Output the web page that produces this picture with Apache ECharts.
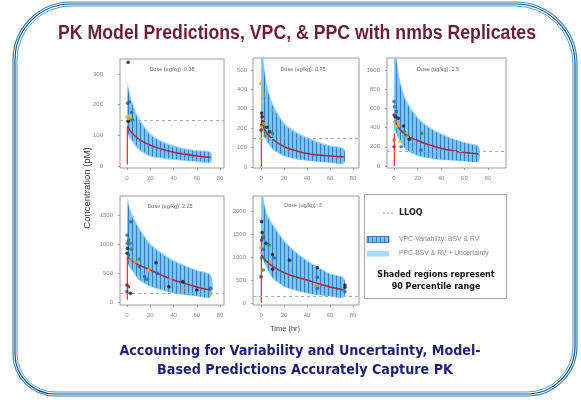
<!DOCTYPE html>
<html><head><meta charset="utf-8">
<script src="https://cdn.jsdelivr.net/npm/echarts@6/dist/echarts.min.js"></script>
<style>html,body{margin:0;padding:0;background:#fff}#c{width:581px;height:402px}</style>
</head><body><div id="c"></div>
<script>
// ---------------- DATA ----------------
const doseLabels = ['0.38', '0.75', '1.5', '2.25', '3'];
const xTicks = [0, 20, 40, 60, 80];
const yTicks038 = [0, 100, 200, 300];
const yTicks075 = [0, 100, 200, 300, 400, 500];
const yTicks15 = [0, 200, 400, 600, 800, 1000];
const yTicks225 = [0, 500, 1000, 1500];
const yTicks3 = [0, 500, 1000, 1500, 2000];
const lloq = 150;

// band time grid (hr)
const bandTimes = [0, 0.5, 2, 5, 10, 20, 30, 40, 50, 60, 72];
const medTimes = [0.5, 2, 5, 10, 20, 30, 40, 50, 60, 72];

// Dose 0.38
const ppcUp038 = [10, 275, 245, 205, 160, 107, 82, 68, 58, 52, 46];
const ppcLo038 = [2, 100, 92, 75, 52, 30, 24, 20, 16, 13, 11];
const vpcUp038 = [8, 262, 232, 195, 150, 100, 77, 63, 54, 48, 43];
const vpcLo038 = [3, 108, 98, 82, 58, 34, 27, 23, 19, 16, 14];
const med038 = [130, 120, 105, 88, 68, 55, 45, 38, 33, 28];
const red038 = [5, 128];
const obs038 = [[1,338,0],[2,209,1],[0.5,205,1],[4,174,1],[0,160,3],[3,150,2],[2,163,4],[5,150,2],[1,146,0],[1.5,155,3]];

// Dose 0.75
const ppcUp075 = [20, 720, 560, 430, 330, 230, 185, 155, 130, 112, 95];
const ppcLo075 = [3, 200, 170, 130, 90, 55, 40, 32, 26, 22, 18];
const vpcUp075 = [15, 690, 535, 410, 315, 218, 175, 146, 123, 106, 90];
const vpcLo075 = [4, 215, 182, 140, 97, 60, 44, 35, 29, 24, 21];
const med075 = [230, 205, 175, 145, 105, 85, 70, 62, 57, 53];
const red075 = [0, 278];
const obs075 = [[0,431,3],[1.5,380,3],[4.3,366,7],[1,337,4],[9,294,7],[0.5,278,0],[1,259,0],[1.5,233,0],[0.6,216,0],[0,208,4],[3.5,160,2],[7.5,182,0],[10,173,2],[2,225,3],[0,190,5],[5,205,0]];

// Dose 1.5
const ppcUp15 = [40, 1400, 1150, 900, 700, 514, 410, 340, 290, 250, 205];
const ppcLo15 = [5, 380, 330, 260, 170, 105, 80, 62, 55, 50, 45];
const vpcUp15 = [30, 1350, 1100, 860, 670, 490, 392, 325, 278, 240, 196];
const vpcLo15 = [6, 400, 350, 275, 180, 112, 86, 67, 59, 53, 48];
const med15 = [480, 440, 380, 325, 265, 220, 184, 160, 140, 125];
const red15 = [0, 340];
const obs15 = [[0,670,1],[0.5,618,2],[2,566,1],[1,514,0],[0,531,5],[3.5,497,0],[0.5,462,3],[2,410,4],[4,427,3],[8,417,0],[8.5,358,2],[11.5,313,2],[11,299,7],[13,278,0],[23.5,340,2],[23,167,1],[6,201,1],[0,201,6],[0,271,8],[5,253,4]];

// Dose 2.25
const ppcUp225 = [50, 1800, 1650, 1500, 1300, 1010, 850, 724, 630, 552, 470];
const ppcLo225 = [5, 650, 600, 520, 380, 264, 200, 150, 120, 100, 80];
const vpcUp225 = [40, 1740, 1600, 1450, 1260, 980, 825, 700, 610, 535, 455];
const vpcLo225 = [6, 680, 625, 545, 400, 278, 212, 160, 128, 107, 86];
const med225 = [780, 750, 700, 640, 552, 460, 380, 320, 260, 207];
const red225 = [40, 780];
const obs225 = [[3.4,1385,1],[0,1155,1],[1.4,1069,2],[2.8,1011,2],[0.2,1011,1],[0.5,925,0],[4,908,2],[0,839,0],[1.4,810,1],[2.8,724,3],[7,695,3],[10.5,735,2],[25,678,0],[10.5,609,1],[15,437,1],[17,391,1],[18,540,7],[19,552,3],[37,391,7],[36,264,0],[48,351,0],[48,236,3],[60,207,0],[72,236,1],[72,149,3],[0,293,5],[1.4,264,5],[0,178,6],[3,149,0],[26,494,1]];

// Dose 3
const ppcUp3 = [60, 2600, 2300, 1950, 1733, 1370, 1120, 935, 780, 646, 545];
const ppcLo3 = [5, 1000, 900, 750, 540, 354, 270, 210, 170, 145, 124];
const vpcUp3 = [50, 2520, 2230, 1890, 1680, 1330, 1090, 905, 755, 627, 530];
const vpcLo3 = [6, 1040, 935, 780, 560, 368, 282, 220, 178, 152, 131];
const med3 = [1050, 990, 900, 800, 660, 570, 500, 420, 350, 283];
const red3 = [0, 1370];
const obs3 = [[0.4,1768,0],[1,1529,0],[1.7,1427,0],[0.4,1370,5],[2,1442,2],[0,1210,3],[4.3,1297,0],[7,1261,2],[2,1167,1],[1,1080,7],[0.4,978,2],[10,1051,0],[11.5,978,1],[8.6,884,3],[2,717,2],[24.8,928,0],[25.6,717,7],[49,768,0],[49,558,1],[49,319,1],[73,391,0],[73,341,0],[73,246,1],[48,391,3],[0,572,5],[10,732,0]];

// ---------------- STYLE / LAYOUT ----------------
const subjColors = ['#1a1a1a','#1f5fbf','#2e8b3e','#f0a020','#d8c838','#8c1030','#6a2a9a','#9ab0c0','#e05030'];
const panels = [
  {dose: doseLabels[0], ppcUp: ppcUp038, ppcLo: ppcLo038, vpcUp: vpcUp038, vpcLo: vpcLo038, med: med038, red: red038, obs: obs038, yTicks: yTicks038},
  {dose: doseLabels[1], ppcUp: ppcUp075, ppcLo: ppcLo075, vpcUp: vpcUp075, vpcLo: vpcLo075, med: med075, red: red075, obs: obs075, yTicks: yTicks075},
  {dose: doseLabels[2], ppcUp: ppcUp15, ppcLo: ppcLo15, vpcUp: vpcUp15, vpcLo: vpcLo15, med: med15, red: red15, obs: obs15, yTicks: yTicks15},
  {dose: doseLabels[3], ppcUp: ppcUp225, ppcLo: ppcLo225, vpcUp: vpcUp225, vpcLo: vpcLo225, med: med225, red: red225, obs: obs225, yTicks: yTicks225},
  {dose: doseLabels[4], ppcUp: ppcUp3, ppcLo: ppcLo3, vpcUp: vpcUp3, vpcLo: vpcLo3, med: med3, red: red3, obs: obs3, yTicks: yTicks3}
];
const layout = [
  {left:120, top:59, width:104, height:109, xMin:-6, xMax:83.4, yMin:-6.5, yMax:349, yMargin:17, doseX:172, doseY:69},
  {left:253, top:58, width:106, height:110, xMin:-7, xMax:85.2, yMin:-5, yMax:562, yMargin:6, doseX:303, doseY:69},
  {left:387, top:58, width:119, height:110, xMin:-6, xMax:95.4, yMin:-21, yMax:1125, yMargin:7, doseX:438, doseY:69},
  {left:120, top:196, width:104, height:109, xMin:-6, xMax:83.4, yMin:-52, yMax:1828, yMargin:7, doseX:170, doseY:206},
  {left:253, top:196, width:106, height:109, xMin:-7, xMax:85.2, yMin:-43, yMax:2326, yMargin:7, doseX:303, doseY:205}
];

const hatch = document.createElement('canvas');
hatch.width = 4; hatch.height = 4;
(function(){ const g = hatch.getContext('2d'); g.fillStyle = 'rgba(35,90,170,0.7)'; g.fillRect(0,0,1,4); })();

const PPC_COLOR = '#98d7f5';
const VPC_BASE = '#74c6f0';

const grids = [], xAxes = [], yAxes = [], series = [], graphics = [];

panels.forEach(function(p, i){
  const L = layout[i];
  grids.push({left:L.left, top:L.top, width:L.width, height:L.height, show:true, borderColor:'#9a9a9a', borderWidth:1, backgroundColor:'transparent'});
  xAxes.push({gridIndex:i, type:'value', min:L.xMin, max:L.xMax,
    splitLine:{show:false}, axisLine:{show:false, onZero:false},
    axisTick:{show:true, length:2, lineStyle:{color:'#999'}, customValues:xTicks},
    axisLabel:{fontSize:6, color:'#888', margin:7, customValues:xTicks, fontFamily:'Liberation Sans', formatter:function(v){ return String(v); }}});
  yAxes.push({gridIndex:i, type:'value', min:L.yMin, max:L.yMax,
    splitLine:{show:false}, axisLine:{show:false, onZero:false},
    axisTick:{show:true, length:2, lineStyle:{color:'#999'}, customValues:p.yTicks},
    axisLabel:{fontSize:6, color:'#888', margin:L.yMargin, customValues:p.yTicks, fontFamily:'Liberation Sans', formatter:function(v){ return String(v); }}});

  series.push({type:'custom', xAxisIndex:i, yAxisIndex:i, clip:true, silent:true, z:1,
    data:[[0,0]],
    renderItem:function(params, api){
      function poly(up, lo){
        const pts = [];
        for (let k = 0; k < bandTimes.length; k++) pts.push(api.coord([bandTimes[k], up[k]]));
        for (let k = bandTimes.length - 1; k >= 0; k--) pts.push(api.coord([bandTimes[k], lo[k]]));
        return pts;
      }
      const cs = params.coordSys;
      return {type:'group', clipPath:{type:'rect', shape:{x:cs.x, y:cs.y, width:cs.width, height:cs.height}}, children:[
        {type:'polygon', shape:{points:poly(p.ppcUp, p.ppcLo), smooth:0.25}, style:{fill:PPC_COLOR}},
        {type:'polygon', shape:{points:poly(p.vpcUp, p.vpcLo), smooth:0.25}, style:{fill:VPC_BASE}},
        {type:'polygon', shape:{points:poly(p.vpcUp, p.vpcLo), smooth:0.25}, style:{fill:{image:hatch, repeat:'repeat'}}}
      ]};
    }});
  series.push({type:'line', xAxisIndex:i, yAxisIndex:i, z:3, silent:true, showSymbol:false, symbol:'none',
    data:[[0.3, p.red[0]],[0.3, p.red[1]]], lineStyle:{color:'#e63a32', width:1.3}});
  series.push({type:'line', xAxisIndex:i, yAxisIndex:i, z:4, silent:true, showSymbol:false, symbol:'none', smooth:true,
    data:medTimes.map(function(t, k){ return [t, p.med[k]]; }), lineStyle:{color:'#a8284a', width:1.5}});
  series.push({type:'scatter', xAxisIndex:i, yAxisIndex:i, z:5, silent:true, symbolSize:3.6,
    data:p.obs, encode:{x:0, y:1},
    itemStyle:{color:function(params){ return subjColors[params.value[2]]; }}});
  series.push({type:'line', xAxisIndex:i, yAxisIndex:i, z:6, silent:true, data:[],
    markLine:{silent:true, symbol:'none', label:{show:false},
      lineStyle:{type:[3,3], color:'#9aaed0', width:1}, data:[{yAxis:lloq}]}});
  graphics.push({type:'text', x:L.doseX, y:L.doseY, style:{text:'Dose (ug/kg): ' + p.dose, fontSize:5.5, fill:'#666', textAlign:'center', textVerticalAlign:'middle', fontFamily:'Liberation Sans'}});
});

// frame
graphics.push({type:'rect', shape:{x:13, y:2, width:564, height:394, r:[58,62,50,42]}, style:{fill:'none', stroke:'#2f82b8', lineWidth:1.2}});
graphics.push({type:'rect', shape:{x:15, y:4, width:560, height:390, r:[56,60,48,40]}, style:{fill:'none', stroke:'#16527f', lineWidth:1.2}});
graphics.push({type:'rect', shape:{x:17, y:6, width:556, height:386, r:[54,58,46,38]}, style:{fill:'none', stroke:'#4a9ad0', lineWidth:1}});

// titles
graphics.push({type:'text', x:297, y:33, scaleX:0.885, style:{text:'PK Model Predictions, VPC, & PPC with nmbs Replicates', fontSize:20, fontWeight:'bold', fontFamily:'"Liberation Sans", sans-serif', fill:'#6b1d3f', textAlign:'center', textVerticalAlign:'middle'}});
graphics.push({type:'text', x:300, y:351, style:{text:'Accounting for Variability and Uncertainty, Model-', fontSize:14.2, fontWeight:'bold', fontFamily:'"DejaVu Sans Condensed", "DejaVu Sans", sans-serif', fill:'#1e1e78', textAlign:'center', textVerticalAlign:'middle'}});
graphics.push({type:'text', x:305, y:370, style:{text:'Based Predictions Accurately Capture PK', fontSize:14.2, fontWeight:'bold', fontFamily:'"DejaVu Sans Condensed", "DejaVu Sans", sans-serif', fill:'#1e1e78', textAlign:'center', textVerticalAlign:'middle'}});
graphics.push({type:'text', x:285, y:329, style:{text:'Time (hr)', fontSize:7.5, fill:'#444', textAlign:'center', textVerticalAlign:'middle', fontFamily:'Liberation Sans'}});
graphics.push({type:'text', x:87, y:188, rotation:Math.PI/2, style:{text:'Concentration (pM)', fontSize:9.5, fill:'#333', textAlign:'center', textVerticalAlign:'middle', fontFamily:'Liberation Sans'}});

// legend box
graphics.push({type:'rect', shape:{x:364.5, y:194.5, width:142, height:104}, style:{fill:'#fff', stroke:'#a8a8a8', lineWidth:1}});
graphics.push({type:'line', shape:{x1:383, y1:213, x2:393, y2:213}, style:{stroke:'#9a98d8', lineWidth:1.2, lineDash:[2,2]}});
graphics.push({type:'text', x:399, y:213, style:{text:'LLOQ', fontSize:8, fontWeight:'bold', fill:'#222', textVerticalAlign:'middle', fontFamily:'DejaVu Sans'}});
graphics.push({type:'rect', shape:{x:367, y:236.5, width:22, height:6}, style:{fill:VPC_BASE, stroke:'#2a5e9e', lineWidth:0.8}});
graphics.push({type:'rect', shape:{x:367, y:236.5, width:22, height:6}, style:{fill:{image:hatch, repeat:'repeat'}}});
graphics.push({type:'text', x:399, y:239.5, style:{text:'VPC-Variability: BSV & RV', fontSize:6.8, fill:'#888', textVerticalAlign:'middle', fontFamily:'Liberation Sans'}});
graphics.push({type:'rect', shape:{x:367, y:251, width:22, height:5.5}, style:{fill:'#a6dcf6'}});
graphics.push({type:'text', x:399, y:253.5, style:{text:'PPC-BSV & RV + Uncertainty', fontSize:6.8, fill:'#888', textVerticalAlign:'middle', fontFamily:'Liberation Sans'}});
graphics.push({type:'text', x:436, y:275, style:{text:'Shaded regions represent', fontSize:8, fontWeight:'bold', fill:'#111', textAlign:'center', textVerticalAlign:'middle', fontFamily:'DejaVu Sans'}});
graphics.push({type:'text', x:436, y:287, style:{text:'90 Percentile range', fontSize:8, fontWeight:'bold', fill:'#111', textAlign:'center', textVerticalAlign:'middle', fontFamily:'DejaVu Sans'}});

const chart = echarts.init(document.getElementById('c'), null, {renderer:'canvas'});
chart.setOption({
  animation:false,
  backgroundColor:'#ffffff',
  grid:grids, xAxis:xAxes, yAxis:yAxes, series:series, graphic:graphics
});
</script></body></html>
